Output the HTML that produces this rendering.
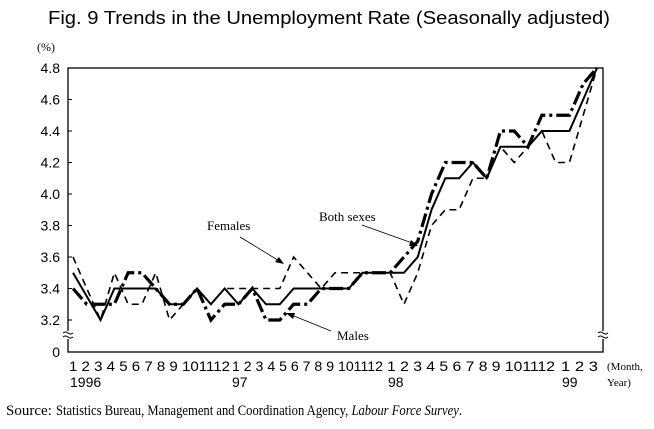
<!DOCTYPE html>
<html><head><meta charset="utf-8"><style>
html,body{margin:0;padding:0;background:#fff;}
svg{display:block;}
.sans{font-family:"Liberation Sans",Arial,sans-serif;}
.serif{font-family:"Liberation Serif","Times New Roman",serif;}
</style></head><body>
<svg id="chart" width="654" height="429" viewBox="0 0 654 429">
<text class="sans" x="48" y="24" font-size="18" textLength="562" lengthAdjust="spacingAndGlyphs">Fig. 9  Trends in the Unemployment Rate (Seasonally adjusted)</text>
<text class="serif" x="37" y="51" font-size="12">(%)</text>
<rect x="68" y="68" width="535" height="284" fill="none" stroke="#000" stroke-width="1.3"/>
<g id="yticks"></g>
<g>
<rect x="64" y="331" width="9" height="8" fill="#fff"/>
<path d="M63,333 q2.5,-2 5,0 t5,0 M63,337 q2.5,-2 5,0 t5,0" fill="none" stroke="#000" stroke-width="1"/>
</g>
<g>
<rect x="598" y="331" width="9" height="8" fill="#fff"/>
<path d="M598,333 q2.5,-2 5,0 t5,0 M598,337 q2.5,-2 5,0 t5,0" fill="none" stroke="#000" stroke-width="1"/>
</g>
<g class="sans" font-size="14">
<text x="69" y="371" textLength="161" lengthAdjust="spacingAndGlyphs">1 2 3 4 5 6 7 8 9 101112</text>
<text x="232" y="371" textLength="151" lengthAdjust="spacingAndGlyphs">1 2 3 4 5 6 7 8 9 101112</text>
<text x="387" y="371" textLength="168" lengthAdjust="spacingAndGlyphs">1 2 3 4 5 6 7 8 9 101112</text>
<text x="561" y="371" textLength="37" lengthAdjust="spacingAndGlyphs">1 2 3</text>
</g>
<g class="sans" font-size="14">
<text x="70" y="387">1996</text>
<text x="232" y="387">97</text>
<text x="388" y="387">98</text>
<text x="562" y="387">99</text>
</g>
<text class="serif" x="607" y="370" font-size="11">(Month,</text>
<text class="serif" x="607" y="386" font-size="11">Year)</text>
<g id="series"></g>
<g class="serif" font-size="13">
<text x="207" y="230">Females</text>
<line x1="240" y1="237" x2="281" y2="262" stroke="#000" stroke-width="0.8"/>
<path d="M284,264 L275,262 L279,257 Z" fill="#000"/>
<text x="319" y="221">Both sexes</text>
<line x1="362" y1="225" x2="415" y2="244" stroke="#000" stroke-width="0.8"/>
<path d="M418,246 L409,246 L411,240 Z" fill="#000"/>
<text x="337" y="340">Males</text>
<line x1="331" y1="331" x2="289" y2="314" stroke="#000" stroke-width="0.8"/>
<path d="M286,313 L295,313 L293,319 Z" fill="#000"/>
</g>
<text class="serif" x="6" y="415" font-size="15">Source:</text>
<text class="serif" x="56" y="415" font-size="15" textLength="406" lengthAdjust="spacingAndGlyphs">Statistics Bureau, Management and Coordination Agency, <tspan font-style="italic">Labour Force Survey</tspan>.</text>
</svg>
<script>
const yTicks = [3.2, 3.4, 3.6, 3.8, 4.0, 4.2, 4.4, 4.6, 4.8];
const yTickLabels = ["3.2","3.4","3.6","3.8","4.0","4.2","4.4","4.6","4.8"];
const months = ["1996-01","1996-02","1996-03","1996-04","1996-05","1996-06","1996-07","1996-08","1996-09","1996-10","1996-11","1996-12",
"1997-01","1997-02","1997-03","1997-04","1997-05","1997-06","1997-07","1997-08","1997-09","1997-10","1997-11","1997-12",
"1998-01","1998-02","1998-03","1998-04","1998-05","1998-06","1998-07","1998-08","1998-09","1998-10","1998-11","1998-12",
"1999-01","1999-02","1999-03"];
const bothSexes = [3.5,3.35,3.2,3.4,3.4,3.4,3.4,3.3,3.3,3.4,3.3,3.4,
3.3,3.4,3.3,3.3,3.4,3.4,3.4,3.4,3.4,3.5,3.5,3.5,
3.5,3.6,3.9,4.1,4.1,4.2,4.1,4.3,4.3,4.3,4.4,4.4,
4.4,4.6,4.8];
const females = [3.6,3.4,3.2,3.5,3.3,3.3,3.5,3.2,3.3,3.4,3.3,3.4,
3.4,3.4,3.4,3.4,3.6,3.5,3.4,3.5,3.5,3.5,3.5,3.5,
3.3,3.5,3.8,3.9,3.9,4.1,4.1,4.3,4.2,4.3,4.4,4.2,
4.2,4.5,4.8];
const males = [3.4,3.3,3.3,3.3,3.5,3.5,3.4,3.3,3.3,3.4,3.2,3.3,
3.3,3.4,3.2,3.2,3.3,3.3,3.4,3.4,3.4,3.5,3.5,3.5,
3.6,3.7,4.0,4.2,4.2,4.2,4.1,4.4,4.4,4.3,4.5,4.5,
4.5,4.7,4.8];

const NS = "http://www.w3.org/2000/svg";
function xScale(i){ return 73 + i * (597 - 73) / (months.length - 1); }
function yScale(v){ return 68 + (4.8 - v) / 0.2 * 31.5; }

const yg = document.getElementById('yticks');
yTicks.forEach((v, i) => {
  const t = document.createElementNS(NS, 'text');
  t.setAttribute('x', 60); t.setAttribute('y', yScale(v) + 5);
  t.setAttribute('text-anchor', 'end'); t.setAttribute('font-size', '14');
  t.setAttribute('class', 'sans');
  t.textContent = yTickLabels[i];
  
  
  yg.appendChild(t);
  const tk = document.createElementNS(NS, 'line');
  tk.setAttribute('x1', 68); tk.setAttribute('x2', 72);
  tk.setAttribute('y1', yScale(v)); tk.setAttribute('y2', yScale(v));
  tk.setAttribute('stroke', '#000');
  
  
  yg.appendChild(tk);
});
const zero = document.createElementNS(NS, 'text');
zero.setAttribute('x', 60); zero.setAttribute('y', 357);
zero.setAttribute('text-anchor', 'end'); zero.setAttribute('font-size', '14');
zero.setAttribute('class', 'sans');
zero.textContent = '0';


yg.appendChild(zero);

const sg = document.getElementById('series');
function drawLine(vals, name, width, dash){
  const p = document.createElementNS(NS, 'polyline');
  p.setAttribute('points', vals.map((v, i) => xScale(i) + ',' + yScale(v)).join(' '));
  p.setAttribute('fill', 'none');
  p.setAttribute('stroke', '#000');
  p.setAttribute('stroke-width', width);
  p.setAttribute('stroke-linejoin', 'miter');
  if (dash) p.setAttribute('stroke-dasharray', dash);
  
  
  sg.appendChild(p);
}
drawLine(females, 'females-line', 1.6, '7,5');
drawLine(bothSexes, 'both-sexes-line', 2, null);
drawLine(males, 'males-line', 3.2, '14,4,3,4');
</script>
</body></html>
